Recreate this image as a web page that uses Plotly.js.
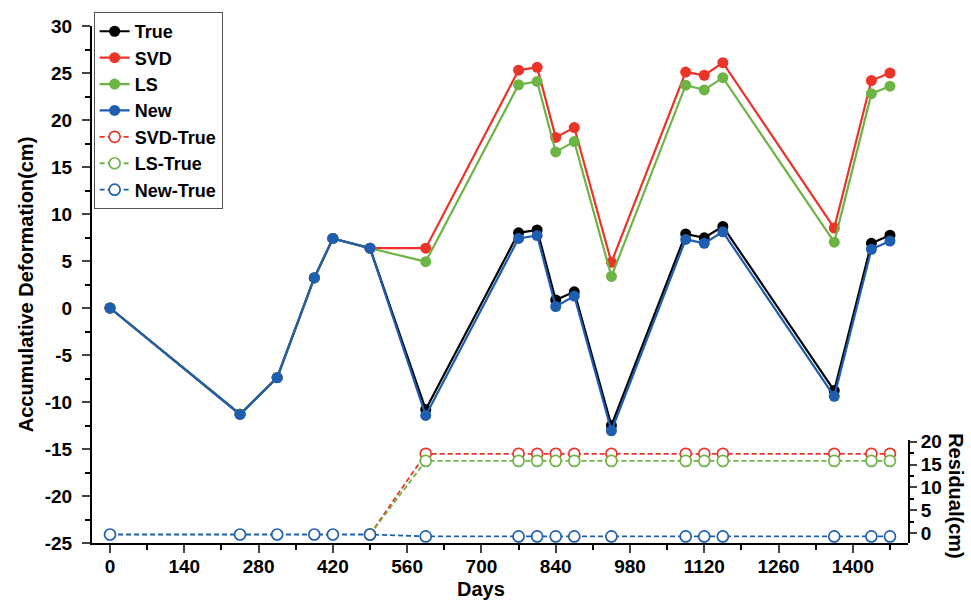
<!DOCTYPE html>
<html>
<head>
<meta charset="utf-8">
<script src="https://cdn.plot.ly/plotly-3.0.1.min.js"></script>
<style>html,body{margin:0;padding:0;background:#fff;}#chart{width:971px;height:600px;}</style>
</head>
<body>
<div id="chart"></div>
<script>
// Days of each acquisition
const days = [0, 245, 315, 385, 420, 490, 595, 770, 805, 840, 875, 945, 1085, 1120, 1155, 1365, 1435, 1470];

// Accumulative deformation (cm)
const trueVals = [0, -11.3, -7.4, 3.2, 7.4, 6.36, -10.8, 8.0, 8.3, 0.86, 1.72, -12.5, 7.88, 7.47, 8.68, -8.78, 6.88, 7.75];
const svdVals  = [0, -11.3, -7.4, 3.2, 7.4, 6.36, 6.36, 25.3, 25.6, 18.15, 19.2, 4.86, 25.1, 24.76, 26.1, 8.5, 24.2, 25.0];
const lsVals   = [0, -11.3, -7.4, 3.2, 7.4, 6.36, 4.93, 23.75, 24.1, 16.6, 17.7, 3.36, 23.7, 23.2, 24.5, 7.0, 22.8, 23.6];
const newVals  = [0, -11.32, -7.42, 3.22, 7.4, 6.36, -11.43, 7.4, 7.71, 0.16, 1.27, -13.06, 7.3, 6.88, 8.1, -9.4, 6.25, 7.12];

// Residuals (cm)
const svdRes = [null, null, null, null, null, -0.28, 17.35, 17.35, 17.35, 17.35, 17.35, 17.35, 17.35, 17.35, 17.35, 17.35, 17.35, 17.35];
const lsRes  = [null, null, null, null, null, -0.28, 15.8, 15.8, 15.8, 15.8, 15.8, 15.8, 15.8, 15.8, 15.8, 15.8, 15.8, 15.8];
const newRes = [-0.28, -0.28, -0.28, -0.28, -0.28, -0.28, -0.7, -0.7, -0.7, -0.7, -0.7, -0.7, -0.7, -0.7, -0.7, -0.7, -0.7, -0.7];

// Tick labels
const xTicks = [0, 140, 280, 420, 560, 700, 840, 980, 1120, 1260, 1400];
const yTicks = [-25, -20, -15, -10, -5, 0, 5, 10, 15, 20, 25, 30];
const y2Ticks = [0, 5, 10, 15, 20];

const RED = '#ec3327', GREEN = '#6cb545', BLUE = '#1e5eb1', BLACK = '#000000';
const FONT = 'Liberation Sans, Arial, sans-serif';

function solid(name, y, color) {
  return {x: days, y: y, name: name, type: 'scatter', mode: 'lines+markers',
    line: {color: color, width: 2.2}, marker: {color: color, size: 11, symbol: 'circle'}, xaxis: 'x', yaxis: 'y'};
}
function resid(name, y, color) {
  return {x: days, y: y, name: name, type: 'scatter', mode: 'lines+markers',
    line: {color: color, width: 1.8, dash: '5px,3px'},
    marker: {color: '#ffffff', size: 11, symbol: 'circle', line: {color: color, width: 1.7}},
    xaxis: 'x', yaxis: 'y2'};
}

const data = [
  solid('True', trueVals, BLACK),
  solid('SVD', svdVals, RED),
  solid('LS', lsVals, GREEN),
  solid('New', newVals, BLUE),
  resid('SVD-True', svdRes, RED),
  resid('LS-True', lsRes, GREEN),
  resid('New-True', newRes, BLUE)
];

const boldFont = (s) => ({family: FONT, size: s, color: '#000', weight: 700});
const layout = {
  width: 971, height: 600,
  margin: {l: 92, r: 63, t: 16, b: 57},
  paper_bgcolor: '#fff', plot_bgcolor: 'rgba(0,0,0,0)',
  font: boldFont(19),
  showlegend: true,
  legend: {x: 0.002, y: 1.027, xanchor: 'left', yanchor: 'top', bordercolor: '#555', borderwidth: 1,
    bgcolor: '#fff', font: boldFont(18), tracegroupgap: 0},
  xaxis: {range: [-34, 1504], tickvals: xTicks, ticktext: xTicks.map(String), ticks: 'outside', ticklen: 8, tickwidth: 2,
    minor: {dtick: 70, tick0: 0, ticks: 'outside', ticklen: 5, tickwidth: 2, tickcolor: '#000'},
    showline: true, linewidth: 2, linecolor: '#000', showgrid: false, zeroline: false, tickfont: boldFont(19),
    ticklabelstandoff: -3,
    anchor: 'y'},
  yaxis: {range: [-25, 30], tickvals: yTicks, ticktext: yTicks.map(v => String(v)), ticks: 'outside', ticklen: 8, tickwidth: 2,
    minor: {dtick: 2.5, tick0: 0, ticks: 'outside', ticklen: 5, tickwidth: 2, tickcolor: '#000'},
    showline: true, linewidth: 2, linecolor: '#000', showgrid: false, zeroline: false, tickfont: boldFont(19),
    ticklabelstandoff: 6,
    title: {text: 'Accumulative Deformation(cm)', font: boldFont(20), standoff: 6},
    domain: [0, 1]},
  yaxis2: {range: [-2.14, 20.34], domain: [0, 0.199], anchor: 'x', side: 'right', tickvals: y2Ticks, ticktext: y2Ticks.map(String),
    ticks: 'outside', ticklen: 7, tickwidth: 2,
    minor: {dtick: 2.5, tick0: 0, ticks: 'outside', ticklen: 4, tickwidth: 2, tickcolor: '#000'},
    showline: true, linewidth: 2, linecolor: '#000', showgrid: false, zeroline: false, tickfont: boldFont(19)},
  annotations: [
    {text: 'Residual(cm)', xref: 'paper', yref: 'paper', x: 1.058, y: 0.09, textangle: 90,
      showarrow: false, font: boldFont(20), xanchor: 'center', yanchor: 'middle'},
    {text: 'Days', xref: 'paper', yref: 'paper', x: 0.477, y: -0.089,
      showarrow: false, font: boldFont(20), xanchor: 'center', yanchor: 'middle'}
  ]
};

Plotly.newPlot('chart', data, layout, {displayModeBar: false, staticPlot: true});
</script>
</body>
</html>
